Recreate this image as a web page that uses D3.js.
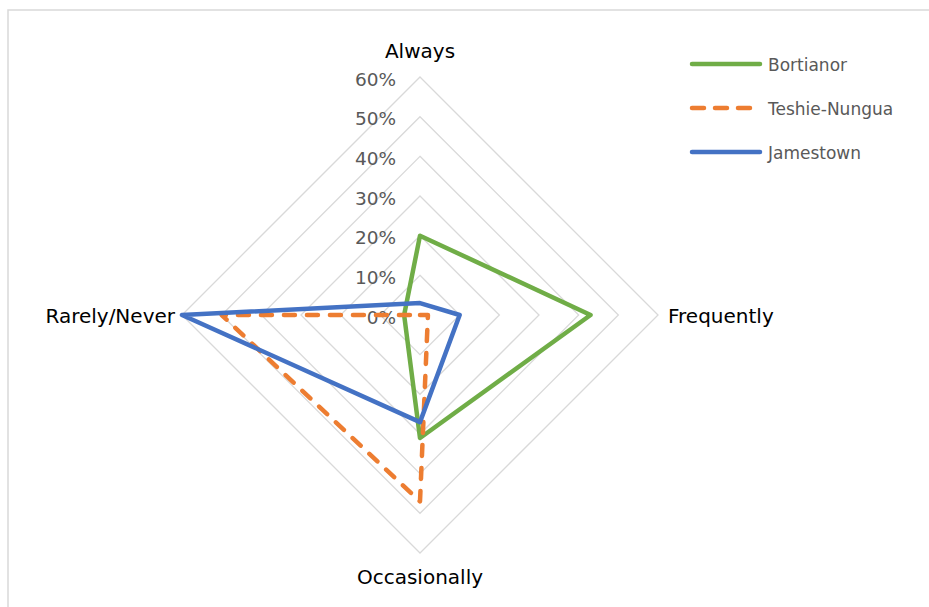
<!DOCTYPE html>
<html>
<head>
<meta charset="utf-8">
<script src="https://cdn.jsdelivr.net/npm/d3@7"></script>
<style>
  body { margin: 0; background: #fff; }
  svg { display: block; }
  text { font-family: "DejaVu Sans", sans-serif; }
</style>
</head>
<body>
<svg id="chart" width="929" height="607"></svg>
<script>
// Radar axes, in clockwise order from the top
const categories = ["Always", "Frequently", "Occasionally", "Rarely/Never"];
const tickValues = [0, 0.1, 0.2, 0.3, 0.4, 0.5, 0.6];
const seriesNames = ["Bortianor", "Teshie-Nungua", "Jamestown"];
const bortianor = [0.20, 0.43, 0.31, 0.04];
const teshieNungua = [0.00, 0.02, 0.47, 0.50];
const jamestown = [0.03, 0.10, 0.27, 0.60];
const seriesColors = ["#70AD47", "#ED7D31", "#4472C4"];

const series = [
  { name: seriesNames[0], values: bortianor, color: seriesColors[0], dash: null },
  { name: seriesNames[1], values: teshieNungua, color: seriesColors[1], dash: "11,12" },
  { name: seriesNames[2], values: jamestown, color: seriesColors[2], dash: null }
];

const svg = d3.select("#chart");
const cx = 420, cy = 315;
const r = d3.scaleLinear().domain([0, 0.6]).range([0, 238]);
const angle = d3.scalePoint().domain(categories).range([0, 2 * Math.PI * 3 / 4]);

function pt(cat, v) {
  const a = angle(cat);
  return [cx + r(v) * Math.sin(a), cy - r(v) * Math.cos(a)];
}

// Chart frame
svg.append("path")
  .attr("d", "M8,607 V10 H929")
  .attr("fill", "none")
  .attr("stroke", "#d9d9d9")
  .attr("stroke-width", 1.5);

// Grid rings
const line = d3.line();
svg.append("g").selectAll("path")
  .data(tickValues.filter(v => v > 0))
  .join("path")
  .attr("d", v => line(categories.map(c => pt(c, v))) + "Z")
  .attr("fill", "none")
  .attr("stroke", "#d9d9d9")
  .attr("stroke-width", 1.3);

// Value tick labels along the top axis
svg.append("g").selectAll("text")
  .data(tickValues)
  .join("text")
  .attr("x", 396)
  .attr("y", v => cy - r(v) + 8.6)
  .attr("text-anchor", "end")
  .attr("font-size", 18.5)
  .attr("fill", "#595959")
  .text(d3.format(".0%"));

// Series polygons
svg.append("g").selectAll("path")
  .data(series)
  .join("path")
  .attr("d", s => line(categories.map((c, i) => pt(c, s.values[i]))) + "Z")
  .attr("fill", "none")
  .attr("stroke", s => s.color)
  .attr("stroke-width", 4.5)
  .attr("stroke-linejoin", "round")
  .attr("stroke-linecap", "round")
  .attr("stroke-dasharray", s => s.dash);

// Category labels
const labelPos = [
  { x: cx, y: 58, anchor: "middle" },
  { x: 668, y: 323, anchor: "start" },
  { x: cx, y: 584, anchor: "middle" },
  { x: 175, y: 323, anchor: "end" }
];
svg.append("g").selectAll("text")
  .data(categories)
  .join("text")
  .attr("x", (d, i) => labelPos[i].x)
  .attr("y", (d, i) => labelPos[i].y)
  .attr("text-anchor", (d, i) => labelPos[i].anchor)
  .attr("font-size", 20)
  .attr("fill", "#000")
  .text(d => d);

// Legend
const legend = svg.append("g").selectAll("g")
  .data(series)
  .join("g")
  .attr("transform", (d, i) => `translate(0, ${64 + i * 44})`);
legend.append("line")
  .attr("x1", 692).attr("x2", 760)
  .attr("stroke", d => d.color)
  .attr("stroke-width", 4.5)
  .attr("stroke-linecap", "round")
  .attr("stroke-dasharray", d => d.dash ? "12,11" : null);
legend.append("text")
  .attr("x", 768)
  .attr("y", 6.5)
  .attr("font-size", 17)
  .attr("fill", "#595959")
  .text(d => d.name);
</script>
</body>
</html>
